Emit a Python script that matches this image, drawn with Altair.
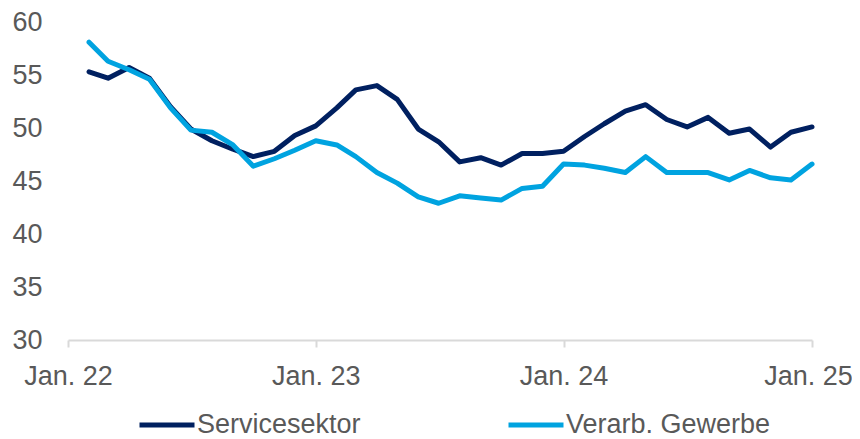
import altair as alt
import pandas as pd

# Monthly observations Feb 2022 .. Jan 2025
months = [f"{2022 + (i // 12)}-{i % 12 + 1:02d}-01" for i in range(1, 37)]

servicesektor = [55.3, 54.7, 55.7, 54.7, 52.0, 49.9, 48.8, 48.0, 47.3, 47.8, 49.3, 50.2,
                 51.9, 53.6, 54.0, 52.7, 49.9, 48.7, 46.8, 47.2, 46.5, 47.6, 47.6, 47.8,
                 49.2, 50.4, 51.6, 52.2, 50.8, 50.1, 51.0, 49.5, 49.9, 48.2, 49.6, 50.1]

verarb_gewerbe = [58.1, 56.3, 55.5, 54.6, 51.9, 49.8, 49.6, 48.4, 46.4, 47.1, 47.9, 48.8,
                  48.4, 47.3, 45.8, 44.8, 43.5, 42.9, 43.6, 43.4, 43.2, 44.3, 44.5, 46.6,
                  46.5, 46.2, 45.8, 47.3, 45.8, 45.8, 45.8, 45.1, 46.0, 45.3, 45.1, 46.6]

series_names = ["Servicesektor", "Verarb. Gewerbe"]
series_colors = ["#002060", "#00A3E0"]
y_ticks = [30, 35, 40, 45, 50, 55, 60]
x_tick_years = [2022, 2023, 2024, 2025]

df = pd.DataFrame({
    "date": months + months,
    "value": servicesektor + verarb_gewerbe,
    "series": [series_names[0]] * len(months) + [series_names[1]] * len(months),
    "order": [0] * len(months) + [1] * len(months),
})

FONT = "Liberation Sans"
GREY = "#595959"

x_enc = alt.X(
    "date:T",
    title=None,
    scale=alt.Scale(
        type="utc",
        domain=[alt.DateTime(year=2022, month=1, date=1, utc=True),
                alt.DateTime(year=2025, month=1, date=1, utc=True)],
        nice=False,
    ),
    axis=alt.Axis(
        values=[alt.DateTime(year=y, month=1, date=1, utc=True) for y in x_tick_years],
        labelExpr="'Jan. ' + utcFormat(datum.value, '%y')",
        domainColor="#d9d9d9",
        domainWidth=2,
        tickColor="#d9d9d9",
        tickWidth=2,
        tickSize=7,
        labelPadding=16,
        labelFlush=False,
        labelOffset={"condition": {"test": "utcyear(datum.value) >= 2025", "value": -4}, "value": 0},
        grid=False,
    ),
)

y_enc = alt.Y(
    "value:Q",
    title=None,
    scale=alt.Scale(domain=[30, 60], nice=False, zero=False),
    axis=alt.Axis(values=y_ticks, domain=False, ticks=False, tickSize=0,
                  labelPadding=26, grid=False),
)

color_enc = alt.Color(
    "series:N",
    scale=alt.Scale(domain=series_names, range=series_colors),
    legend=alt.Legend(
        orient="none",
        legendX=69,
        legendY=373,
        direction="horizontal",
        title=None,
        symbolType="stroke",
        symbolSize=3025,
        symbolStrokeWidth=5,
        labelFont=FONT,
        labelFontSize=27,
        labelColor=GREY,
        labelOffset=0,
        columnPadding=137,
        labelLimit=400,
    ),
)

chart = (
    alt.Chart(df)
    .mark_line(strokeWidth=5, strokeJoin="round", strokeCap="round")
    .encode(x=x_enc, y=y_enc, color=color_enc, order=alt.Order("order:Q"))
    .properties(
        width=744,
        height=318,
        padding={"left": 60, "top": 14, "right": 40, "bottom": 99},
        autosize=alt.AutoSizeParams(type="none"),
    )
    .configure_view(stroke=None)
    .configure_axis(labelFont=FONT, labelFontSize=27, labelColor=GREY)
)

chart.save("out.html", embed_options={"renderer": "svg", "actions": False})
